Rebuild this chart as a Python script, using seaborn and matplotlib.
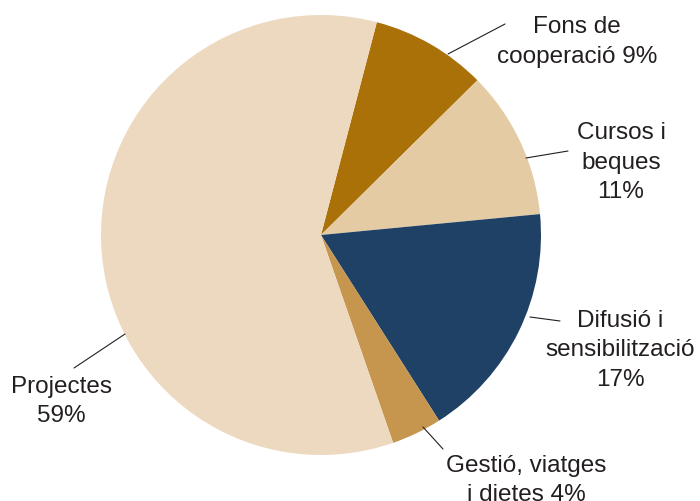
import seaborn as sns
import matplotlib.pyplot as plt

# slice data, clockwise from the top (shares as drawn in the chart)
labels = ['Fons de\ncooperació 9%', 'Cursos i\nbeques\n11%', 'Difusió i\nsensibilització\n17%',
          'Gestió, viatges\ni dietes 4%', 'Projectes\n59%']
values = [8.5, 10.9, 17.5, 3.7, 59.4]
colors = ['#AA7109', '#E5CBA3', '#1F4165', '#C6964F', '#EDD9BF']

sns.set_theme(style='white')
plt.rcParams['font.family'] = ['Liberation Sans', 'DejaVu Sans']

H = 502
fig = plt.figure(figsize=(7, 5.02), dpi=100)
ax = fig.add_axes([0, 0, 1, 1])

ax.pie(values, colors=colors, startangle=75.3, counterclock=False,
       center=(321, H - 236), radius=220,
       wedgeprops=dict(linewidth=0))

# label layout: (line start, line end, text centre x, first baseline y)
layout = [
    ((448, 55), (505, 25), 577, 33),
    ((526, 159), (568, 152), 621, 139),
    ((530, 318), (560, 322), 620, 327),
    ((423, 428), (443, 450), 526, 472),
    ((125, 335), (74, 369), 61, 393),
]
for lab, (p0, p1, tx, ty) in zip(labels, layout):
    ax.plot([p0[0], p1[0]], [H - p0[1], H - p1[1]], color='#231F20', lw=0.8)
    for i, line in enumerate(lab.split('\n')):
        ax.text(tx, H - (ty + i * 29.5), line, ha='center', va='baseline',
                fontsize=17.5, color='#231F20')

ax.set_xlim(0, 700)
ax.set_ylim(0, H)
ax.set_aspect('equal')
ax.axis('off')

fig.savefig('out.png', dpi=100)
